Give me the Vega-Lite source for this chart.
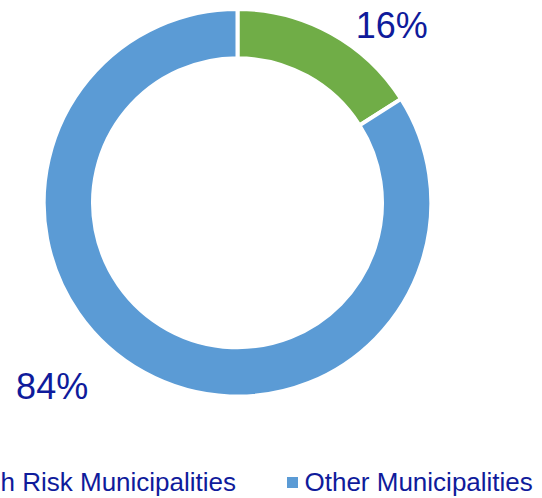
{
  "$schema": "https://vega.github.io/schema/vega-lite/v6.json",
  "autosize": "none",
  "width": 475,
  "height": 405.5,
  "padding": {"left": 0, "top": 0, "right": 67, "bottom": 92.5},
  "background": "white",
  "config": {"view": {"stroke": null}},
  "data": {
    "values": [
      {"category": "High Risk Municipalities", "share": 0.16},
      {"category": "Other Municipalities", "share": 0.84}
    ]
  },
  "layer": [
    {
      "mark": {"type": "arc", "outerRadius": 193.8, "innerRadius": 144.5, "stroke": "white", "strokeWidth": 4},
      "encoding": {
        "theta": {"field": "share", "type": "quantitative", "stack": true},
        "order": {"field": "category", "sort": "ascending"},
        "color": {
          "field": "category",
          "type": "nominal",
          "scale": {"domain": ["High Risk Municipalities", "Other Municipalities"], "range": ["#70AD47", "#5B9BD5"]},
          "legend": {
            "orient": "none",
            "direction": "horizontal",
            "legendX": -63.5,
            "legendY": 469.5,
            "title": null,
            "symbolType": "square",
            "symbolSize": 121,
            "symbolStrokeWidth": 0,
            "labelFont": "Liberation Sans",
            "labelFontSize": 26,
            "labelColor": "#0F1B9B",
            "labelOffset": -1,
            "labelLimit": 600,
            "columnPadding": 43
          }
        }
      }
    },
    {
      "mark": {"type": "text", "radius": 200, "dx": 58, "dy": 0, "font": "Liberation Sans", "fontSize": 36, "color": "#0F1B9B", "baseline": "middle", "align": "center"},
      "encoding": {
        "theta": {"field": "share", "type": "quantitative", "stack": true},
        "order": {"field": "category", "sort": "ascending"},
        "text": {"field": "share", "type": "quantitative", "format": ".0%"},
        "opacity": {"condition": {"test": "datum.category === 'High Risk Municipalities'", "value": 1}, "value": 0}
      }
    },
    {
      "mark": {"type": "text", "radius": 200, "dx": -89, "dy": 9.5, "font": "Liberation Sans", "fontSize": 36, "color": "#0F1B9B", "baseline": "middle", "align": "center"},
      "encoding": {
        "theta": {"field": "share", "type": "quantitative", "stack": true},
        "order": {"field": "category", "sort": "ascending"},
        "text": {"field": "share", "type": "quantitative", "format": ".0%"},
        "opacity": {"condition": {"test": "datum.category === 'Other Municipalities'", "value": 1}, "value": 0}
      }
    }
  ]
}
